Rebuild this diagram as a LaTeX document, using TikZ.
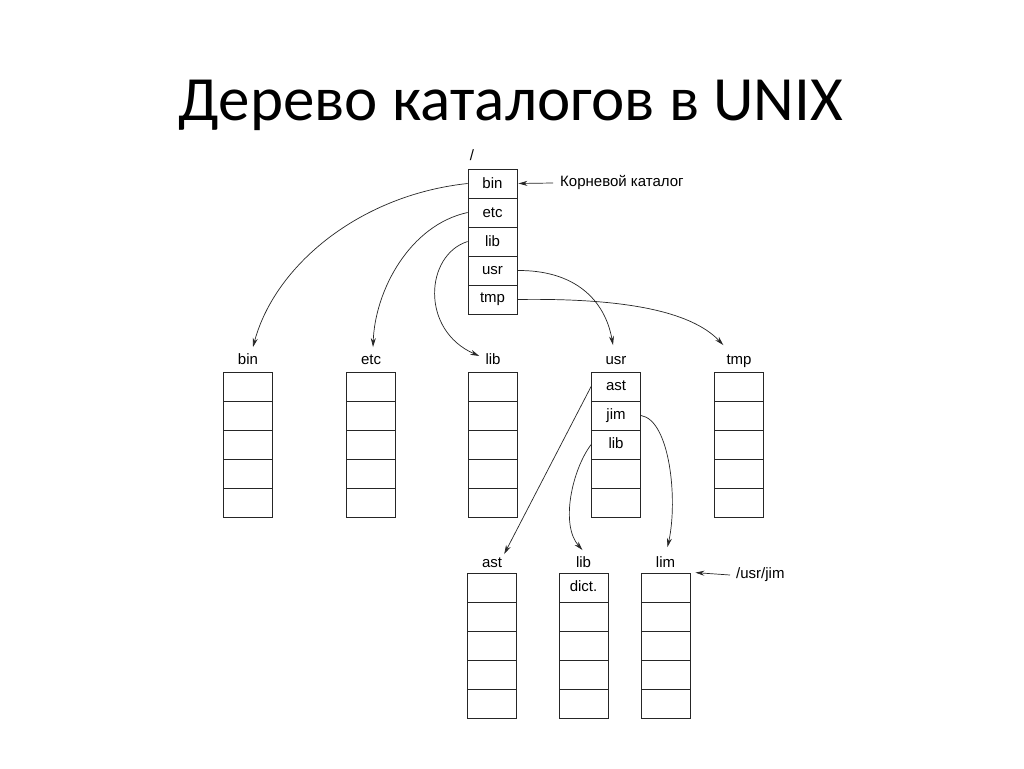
\documentclass[tikz,border=0pt]{standalone}
\usepackage{fontspec}
\setmainfont{Liberation Sans}
\newfontfamily\titlefont{Carlito}
\usetikzlibrary{arrows.meta}
\begin{document}
\begin{tikzpicture}[x=1pt,y=-1pt,
  cell/.style={draw=black!85, line width=0.8pt, minimum width=49pt, minimum height=29pt, inner sep=0pt, font=\fontsize{15}{17}\selectfont},
  lbl/.style={font=\fontsize{15}{17}\selectfont, inner sep=1pt, text height=10.5pt, text depth=3pt},
  link/.style={draw=black!85, line width=0.7pt, -{Stealth[length=9pt,width=5pt]}}]
\useasboundingbox[fill=white] (0,0) rectangle (1024,768);
% title
\node[font=\titlefont\fontsize{63}{70}\selectfont, anchor=base, inner sep=0pt] (title) at (511,120) {Дерево каталогов в UNIX};
% root
\node[lbl] (slash) at (472,157) {/};
\foreach \i/\t in {1/bin,2/etc,3/lib,4/usr,5/tmp}
  \node[cell] (r\i) at (492.5,{154.5+29*\i}) {\t};
\node[lbl, anchor=west] (kor) at (559,183) {Корневой каталог};
\draw[link] ([xshift=-6pt]kor.west) -- ([xshift=1pt]r1.east);
% second level
\foreach \c/\x in {bin/248,etc/371,lib/493,usr/616,tmp/739}{
  \foreach \i in {1,...,5}
    \node[cell] (s\c\i) at (\x,{357.5+29*\i}) {};
  \node[lbl] (L\c) at (\x,361) {\c};
}
\node[lbl] at (susr1) {ast};
\node[lbl] at (susr2) {jim};
\node[lbl] at (susr3) {lib};
% third level
\foreach \c/\x/\t in {ast/492/ast,tlib/583.5/lib,lim/665.5/lim}{
  \foreach \i in {1,...,5}
    \node[cell] (t\c\i) at (\x,{558.5+29*\i}) {};
  \node[lbl] (M\c) at (\x,564) {\t};
}
\node[lbl] at (ttlib1) {dict.};
\node[lbl, anchor=west] (usrjim) at (735,575) {/usr/jim};
\draw[link] ([xshift=-5pt]usrjim.west) -- ([xshift=5pt]tlim1.north east);
% links from root
\draw[link] (r1.west) .. controls (360,195) and (275,265) .. ([shift={(5,-6)}]Lbin.north);
\draw[link] (r2.west) .. controls (410,225) and (375,290) .. ([shift={(2,-6)}]Letc.north);
\draw[link] (r3.west) .. controls (425,255) and (420,330) .. ([shift={(-5,-5)}]Llib.west);
\draw[link] (r4.east) .. controls (575,270) and (605,300) .. ([shift={(-3,-8)}]Lusr.north);
\draw[link] (r5.east) .. controls (620,298) and (690,310) .. ([shift={(-2,-8)}]Ltmp.north west);
% links from usr
\draw[link] (susr1.west) -- ([shift={(1,-2)}]Mast.north east);
\draw[link] (susr3.west) .. controls (572,470) and (560,525) .. ([shift={(-1,-6)}]Mtlib.north);
\draw[link] (susr2.east) .. controls (670,420) and (678,500) .. ([shift={(2,-9)}]Mlim.north);
\end{tikzpicture}
\end{document}
